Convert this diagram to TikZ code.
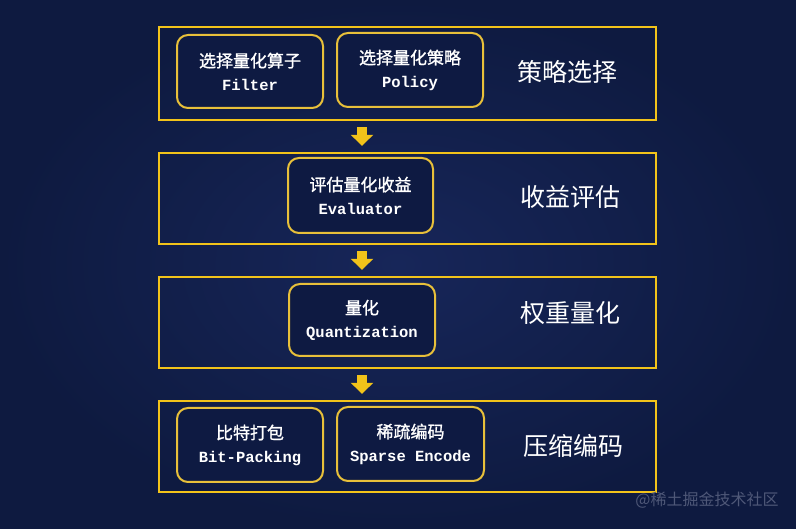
\documentclass[tikz,border=0pt]{standalone}
\usepackage{fontspec}
\setmainfont{Liberation Mono}
\newfontfamily\cjk{Noto Sans CJK SC}[AutoFakeBold=1.2]
\newfontfamily\monob{Liberation Mono}
\usetikzlibrary{arrows.meta}
\definecolor{bgin}{HTML}{172659}
\definecolor{bgout}{HTML}{0E1A40}
\definecolor{boxfill}{HTML}{0E1A42}
\definecolor{ylw}{HTML}{F2C31A}
\definecolor{ylw2}{HTML}{E8C03A}
\definecolor{wm}{HTML}{4F5878}
\tikzset{
  stagebox/.style={draw=ylw, line width=2.4pt, minimum width=497pt, inner sep=0pt},
  opbox/.style={draw=ylw2, line width=2pt, rounded corners=11pt, fill=boxfill,
    minimum width=146pt, align=center, text=white, inner sep=0pt,
    font=\fontsize{16}{23}\selectfont},
  stagelabel/.style={text=white, font=\cjk\fontsize{25}{30}\selectfont},
  yarrow/.style={draw=ylw, line width=10pt, shorten <=6pt, shorten >=6pt,
    -{Triangle[width=22pt,length=11pt]}},
}
\newcommand{\optext}[2]{{\cjk\bfseries\fontsize{17}{23}\selectfont #1}\\{\monob\bfseries\fontsize{15.5}{23}\selectfont #2}}
\begin{document}
\begin{tikzpicture}[x=1pt,y=-1pt]
\shade[inner color=bgin, outer color=bgout] (0,0) rectangle (796,529);
\useasboundingbox (0,0) rectangle (796,529);

\node[stagebox, minimum height=93pt] (s1) at (407.5,73.5) {};
\node[stagebox, minimum height=91pt] (s2) at (407.5,198.5) {};
\node[stagebox, minimum height=91pt] (s3) at (407.5,322.5) {};
\node[stagebox, minimum height=91pt] (s4) at (407.5,446.5) {};

\node[opbox, minimum height=73pt] (filter) at (250,71.5) {\optext{选择量化算子}{Filter}};
\node[opbox, minimum height=74pt] (policy) at (410,70) {\optext{选择量化策略}{Policy}};
\node[opbox, minimum width=145pt, minimum height=75pt] (eval) at (360.5,195.5) {\optext{评估量化收益}{Evaluator}};
\node[opbox, minimum height=72pt] (quant) at (362,320) {\optext{量化}{Quantization}};
\node[opbox, minimum height=74pt] (bitpack) at (250,445) {\optext{比特打包}{Bit-Packing}};
\node[opbox, minimum width=147pt, minimum height=74pt] (sparse) at (410.5,444) {\optext{稀疏编码}{Sparse Encode}};

\node[stagelabel] (l1) at (567,72) {策略选择};
\node[stagelabel] (l2) at (570,197) {收益评估};
\node[stagelabel] (l3) at (570,313) {权重量化};
\node[stagelabel] (l4) at (573,446) {压缩编码};

\coordinate (ax) at (362,0);
\draw[yarrow] (s1.south -| ax) -- (s2.north -| ax);
\draw[yarrow] (s2.south -| ax) -- (s3.north -| ax);
\draw[yarrow] (s3.south -| ax) -- (s4.north -| ax);

\node[text=wm, font=\cjk\fontsize{16}{18}\selectfont] (wmark) at (707,500) {@稀土掘金技术社区};
\end{tikzpicture}
\end{document}
